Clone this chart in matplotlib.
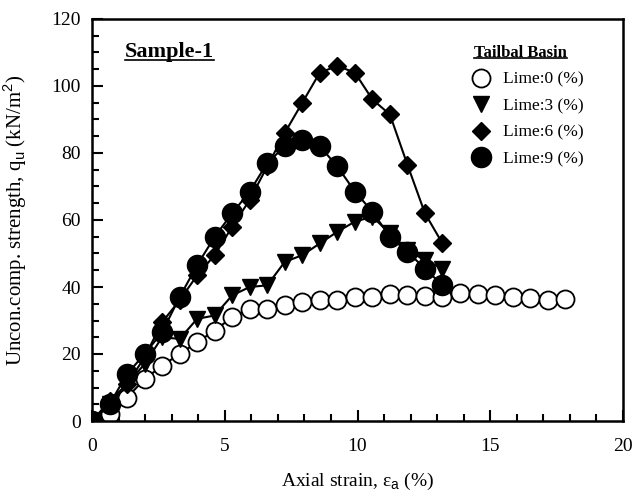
import matplotlib
matplotlib.use("Agg")
import matplotlib.pyplot as plt
from matplotlib.lines import Line2D
from matplotlib.ticker import MultipleLocator

plt.rcParams["font.family"] = "Liberation Serif"
plt.rcParams["mathtext.fontset"] = "custom"
plt.rcParams["mathtext.rm"] = "Liberation Serif"
plt.rcParams["mathtext.sf"] = "Liberation Sans"

# Data
strain_0 = [0, 0.66, 1.32, 1.98, 2.64, 3.3, 3.96, 4.62, 5.28, 5.94, 6.6, 7.26, 7.92, 8.58,
            9.24, 9.9, 10.56, 11.22, 11.88, 12.54, 13.2, 13.86, 14.52, 15.18, 15.84, 16.5,
            17.16, 17.82]
qu_0 = [0, 2, 7, 12.5, 16.5, 20, 23.5, 27, 31, 33.5, 33.5, 34.5, 35.5, 36,
        36, 37, 37, 38, 37.5, 37.3, 37, 38.3, 38, 37.5, 37, 36.7, 36, 36.3]

strain_3 = [0, 0.66, 1.32, 1.98, 2.64, 3.3, 3.96, 4.62, 5.28, 5.94, 6.6, 7.26, 7.92, 8.58,
            9.24, 9.9, 10.56, 11.22, 11.88, 12.54, 13.2]
qu_3 = [0, 5, 11, 17, 25, 24.5, 30.5, 31.5, 37.5, 40, 40.5, 47.5, 49.5, 53,
        56.5, 59.5, 61, 56, 51, 48, 45.5]

strain_6 = strain_3
qu_6 = [0, 6, 11, 19, 29.5, 36, 43.5, 49.5, 58, 66, 76, 86, 95, 104,
        106, 104, 96, 91.5, 76.5, 62, 53]

strain_9 = strain_3
qu_9 = [0, 5, 14, 20, 26.5, 37, 46.5, 55, 62, 68.5, 77, 82, 84, 82,
        76, 68.5, 62.5, 55, 50.5, 45.5, 40.5]

labels = ["Lime:0 (%)", "Lime:3 (%)", "Lime:6 (%)", "Lime:9 (%)"]

fig = plt.figure(figsize=(6.36, 4.99), dpi=100)
ax = fig.add_axes([92 / 636, 78 / 499, 531 / 636, 402 / 499])

styles = [
    dict(marker="o", ms=13, mfc="white", mec="black", mew=1.3),
    dict(marker="v", ms=12, mfc="black", mec="black", mew=1),
    dict(marker="D", ms=9.5, mfc="black", mec="black", mew=1),
    dict(marker="o", ms=14.5, mfc="black", mec="black", mew=1),
]
series = [(strain_0, qu_0), (strain_3, qu_3), (strain_6, qu_6), (strain_9, qu_9)]

handles = []
for (xs, ys), st, lab in zip(series, styles, labels):
    ax.plot(xs, ys, color="black", lw=1.5, **st)
    handles.append(Line2D([], [], linestyle="none", **st, label=lab))

ax.set_xlim(0, 20)
ax.set_ylim(0, 120)
ax.xaxis.set_major_locator(MultipleLocator(5))
ax.xaxis.set_minor_locator(MultipleLocator(1))
ax.yaxis.set_major_locator(MultipleLocator(20))
ax.yaxis.set_minor_locator(MultipleLocator(5))
ax.tick_params(which="both", direction="in", top=False, right=False, width=1.5,
               labelsize=14)
ax.tick_params(which="major", length=8)
ax.tick_params(which="minor", length=5)
ax.tick_params(axis="x", pad=12)
ax.tick_params(axis="y", pad=8)
for sp in ax.spines.values():
    sp.set_linewidth(1.8)

ax.set_xlabel(r"Axial strain, ε$_\mathsf{a}$ (%)", fontsize=14, labelpad=12)
ax.set_ylabel(r"Uncon.comp. strength, q$_\mathsf{u}$ (kN/m$^\mathsf{2}$)", fontsize=15)
ax.yaxis.set_label_coords(-0.118, 0.5)

sample = ax.text(1.25, 110, "Sample-1", fontsize=16, fontweight="bold", va="center")

leg = ax.legend(handles=handles, loc="upper left", bbox_to_anchor=(0.719, 0.935),
                frameon=False, fontsize=12.5, title="Tailbal Basin",
                title_fontproperties={"weight": "bold", "size": 12},
                alignment="left", handlelength=0.8, handletextpad=0.86,
                labelspacing=0.6, borderaxespad=0, borderpad=0)

# underline the two bold headings
fig.canvas.draw()
renderer = fig.canvas.get_renderer()
inv = fig.transFigure.inverted()
for t in [sample, leg.get_title()]:
    bb = t.get_window_extent(renderer)
    (x0, y0), (x1, y1) = inv.transform([(bb.x0, bb.y0 + 3), (bb.x1, bb.y0 + 3)])
    fig.add_artist(Line2D([x0, x1], [y0, y1], color="black", lw=1.2,
                          transform=fig.transFigure))

fig.savefig("out.png", dpi=100)
